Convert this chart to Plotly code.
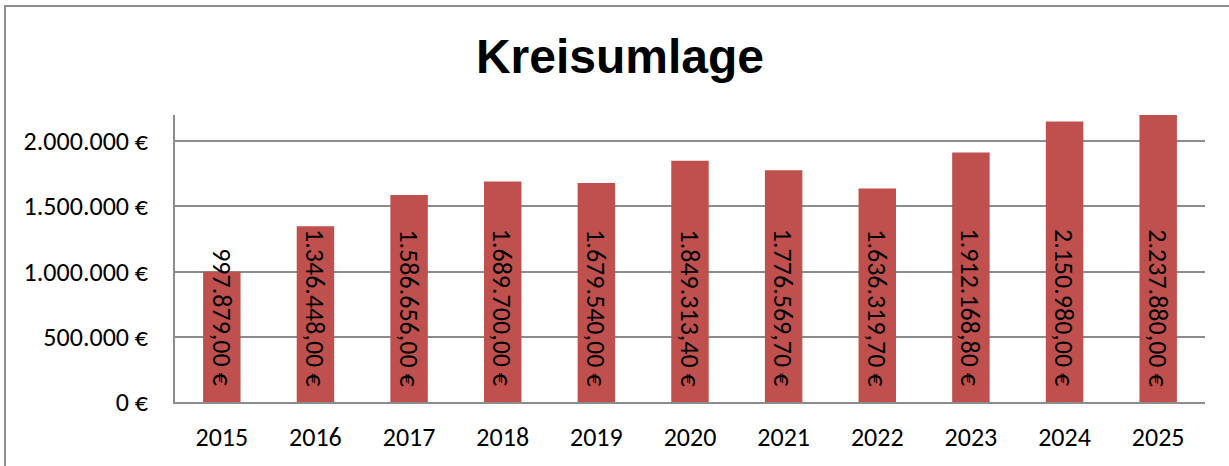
import plotly.graph_objects as go

years = ["2015", "2016", "2017", "2018", "2019", "2020", "2021", "2022", "2023", "2024", "2025"]
values = [997879.00, 1346448.00, 1586656.00, 1689700.00, 1679540.00, 1849313.40,
          1776569.70, 1636319.70, 1912168.80, 2150980.00, 2237880.00]
y_tickvals = [0, 500000, 1000000, 1500000, 2000000]
y_ticktext = ["0 €", "500.000 €", "1.000.000 €", "1.500.000 €", "2.000.000 €"]
title_text = "Kreisumlage"


def de_fmt(v):
    s = f"{v:,.2f}"
    s = s.replace(",", "X").replace(".", ",").replace("X", ".")
    return s + " €"


labels = [de_fmt(v) for v in values]

FONT = "Calibri, Carlito, Lato, sans-serif"
FS = 26
W, H = 1229, 466
L, R, T, B = 175, 24, 115, 64

fig = go.Figure()
fig.add_trace(go.Bar(
    x=years, y=values, width=0.4,
    marker=dict(color="#C0504D", line=dict(width=0)),
    hoverinfo="x+y",
))

for i, lab in enumerate(labels):
    fig.add_annotation(
        x=i, y=0, xref="x", yref="y", text=lab, showarrow=False,
        textangle=90, yanchor="bottom", xanchor="center", yshift=14,
        font=dict(family=FONT, size=FS, color="black"),
    )

pw = W - L - R
ph = H - T - B
# outer chart frame (decoration)
fig.add_shape(
    type="rect", xref="paper", yref="paper",
    x0=(5 - L) / pw, x1=(W + 20 - L) / pw,
    y0=(H - B - (H + 20)) / ph, y1=(H - B - 6) / ph,
    line=dict(color="#8e8e8e", width=2), fillcolor="rgba(0,0,0,0)", layer="below",
)

fig.update_layout(
    width=W, height=H,
    margin=dict(l=L, r=R, t=T, b=B, pad=0, autoexpand=False),
    paper_bgcolor="white", plot_bgcolor="white",
    showlegend=False,
    title=dict(text=f"<b>{title_text}</b>", x=620 / W, xanchor="center",
               y=1 - 56 / H, yanchor="middle", yref="container",
               font=dict(family="Arial, Liberation Sans, sans-serif", size=48, color="black")),
    font=dict(family=FONT, size=FS, color="black"),
)
fig.update_xaxes(
    type="category", range=[-0.5, len(years) - 0.5], automargin=False,
    showline=True, linecolor="#8c8c8c", linewidth=1.5,
    showgrid=False, ticks="", ticklabelstandoff=11,
    tickfont=dict(family=FONT, size=FS, color="black"),
)
fig.update_yaxes(
    range=[0, 2200000], tickvals=y_tickvals, ticktext=y_ticktext, automargin=False,
    showline=True, linecolor="#8c8c8c", linewidth=1.5,
    showgrid=True, gridcolor="#8c8c8c", gridwidth=1.5, zeroline=False,
    ticks="", ticklabelstandoff=20,
    tickfont=dict(family=FONT, size=FS, color="black"),
)

fig.write_html(
    "out.html",
    config={"displayModeBar": False},
    post_script="document.body.style.margin='0';document.body.style.overflow='hidden';",
)
